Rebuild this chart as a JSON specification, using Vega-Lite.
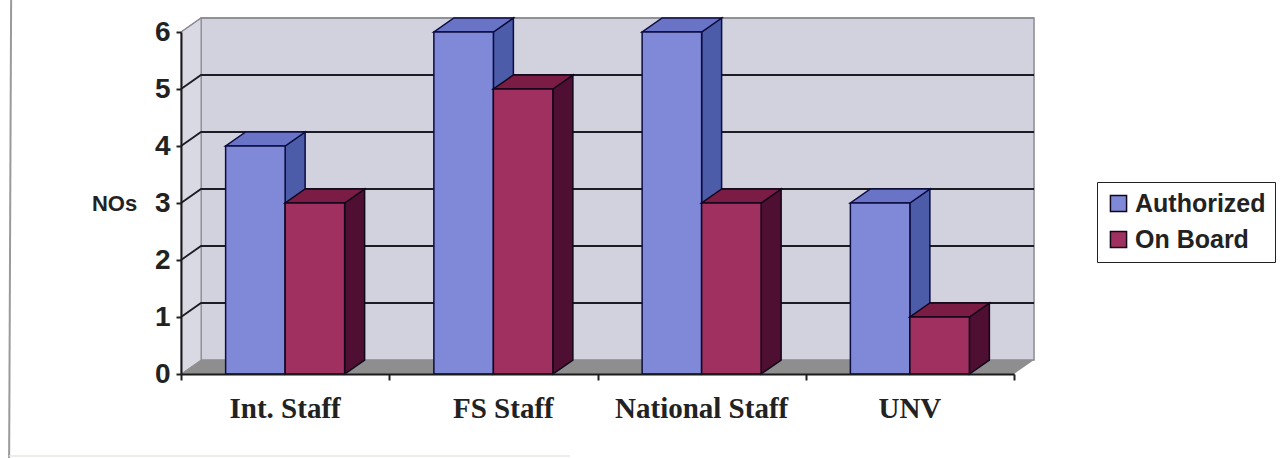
{
"$schema":"https://vega.github.io/schema/vega-lite/v6.json",
"width":833,"height":342,
"autosize":"none",
"padding":{"left":181,"top":32,"right":269,"bottom":84},
"background":"#ffffff",
"datasets":{
"bars":[
{"category":"Int. Staff","series":"Authorized","value":4},
{"category":"Int. Staff","series":"On Board","value":3},
{"category":"FS Staff","series":"Authorized","value":6},
{"category":"FS Staff","series":"On Board","value":5},
{"category":"National Staff","series":"Authorized","value":6},
{"category":"National Staff","series":"On Board","value":3},
{"category":"UNV","series":"Authorized","value":3},
{"category":"UNV","series":"On Board","value":1}],
"levels":[
{"category":"Int. Staff","level":1},
{"category":"Int. Staff","level":2},
{"category":"Int. Staff","level":3},
{"category":"Int. Staff","level":4},
{"category":"Int. Staff","level":5}],
"top":[{"category":"Int. Staff","level":6}],
"base":[{"category":"Int. Staff","level":0}]
},
"encoding":{
"x":{"field":"category","type":"nominal","sort":null,"title":null,
"scale":{"domain":["Int. Staff","FS Staff","National Staff","UNV"],"paddingInner":0,"paddingOuter":0},
"axis":{"zindex":1,"tickBand":"extent","labels":false,"tickColor":"#222222","tickSize":6,"tickWidth":2,"domainColor":"#1a1a1a","domainWidth":2}}
},
"layer":[
{"data":{"name":"base"},"mark":{"type":"point","filled":true,"opacity":1,"size":4,"fill":"#d2d2de","stroke":"#8a8a94","strokeWidth":1.5,"shape":"M-84.1 -14 L748.9 -14 L748.9 -356 L-84.1 -356 Z"},
"encoding":{"y":{"field":"level","type":"quantitative","scale":{"domain":[0,6],"nice":false},"title":"NOs",
"axis":{"zindex":1,"values":[0,1,2,3,4,5,6],"format":"d","grid":false,"labelFont":"Liberation Sans","labelFontWeight":"bold","labelFontSize":28,"labelColor":"#222222","labelPadding":6,"tickColor":"#222222","tickSize":5,"tickWidth":2,"domainColor":"#1a1a1a","domainWidth":2,"titleAngle":0,"titleFont":"Liberation Sans","titleFontWeight":"bold","titleFontSize":22,"titleColor":"#222222","titleX":-67,"titleY":171,"titleAlign":"center","titleBaseline":"middle"}}}},
{"data":{"name":"base"},"mark":{"type":"point","filled":true,"opacity":1,"size":4,"fill":"#d9d9e3","stroke":"#8a8a94","strokeWidth":1,"shape":"M-104.1 0 L-84.1 -14 L-84.1 -356 L-104.1 -342 Z"},
"encoding":{"y":{"field":"level","type":"quantitative"}}},
{"data":{"name":"base"},"mark":{"type":"point","filled":true,"opacity":1,"size":4,"fill":"#8e8e8e","strokeWidth":0,"shape":"M-104.1 0 L728.9 0 L748.9 -14 L-84.1 -14 Z"},
"encoding":{"y":{"field":"level","type":"quantitative"}}},
{"data":{"name":"base"},"mark":{"type":"point","filled":false,"opacity":1,"size":4,"stroke":"#9a9a9a","strokeWidth":2,"shape":"M-274 -374 L-276 84"},
"encoding":{"y":{"field":"level","type":"quantitative"}}},
{"data":{"name":"base"},"mark":{"type":"point","filled":false,"opacity":1,"size":4,"stroke":"#e6e6e2","strokeWidth":1.5,"shape":"M-276 82 L285 82"},
"encoding":{"y":{"field":"level","type":"quantitative"}}},
{"data":{"name":"levels"},"mark":{"type":"point","filled":false,"opacity":1,"size":4,"stroke":"#1c1c24","strokeWidth":1.8,"shape":"M-104.1 0 L-84.1 -14 L748.9 -14"},
"encoding":{"y":{"field":"level","type":"quantitative"}}},
{"data":{"name":"top"},"mark":{"type":"point","filled":false,"opacity":1,"size":4,"stroke":"#8a8a94","strokeWidth":1.5,"shape":"M-104.1 0 L-84.1 -14 L748.9 -14"},
"encoding":{"y":{"field":"level","type":"quantitative"}}},

{"data":{"name":"bars"},"transform":[{"filter":"datum.series==='Authorized'"}],"mark":{"type":"point","filled":true,"opacity":1,"size":4,"fill":"#4c5ca8","stroke":"#0c0c40","strokeWidth":1.5},
"encoding":{"xOffset":{"field":"series","scale":{"domain":["Authorized","On Board"],"paddingInner":0,"paddingOuter":0.75}},"y":{"field":"value","type":"quantitative"},
"shape":{"field":"value","type":"nominal","legend":null,"scale":{"domain":[1,3,4,5,6],"range":["M29.75 0 L49.75 -14 L49.75 43 L29.75 57 Z","M29.75 0 L49.75 -14 L49.75 157 L29.75 171 Z","M29.75 0 L49.75 -14 L49.75 214 L29.75 228 Z","M29.75 0 L49.75 -14 L49.75 271 L29.75 285 Z","M29.75 0 L49.75 -14 L49.75 328 L29.75 342 Z"]}}}},
{"data":{"name":"bars"},"transform":[{"filter":"datum.series==='Authorized'"}],"mark":{"type":"point","filled":true,"opacity":1,"size":4,"fill":"#6a74c6","stroke":"#0c0c40","strokeWidth":1.5,"shape":"M-29.75 0 L29.75 0 L49.75 -14 L-9.75 -14 Z"},
"encoding":{"xOffset":{"field":"series"},"y":{"field":"value","type":"quantitative"}}},
{"data":{"name":"bars"},"transform":[{"filter":"datum.series==='Authorized'"}],"mark":{"type":"bar","stroke":"#0c0c40","strokeWidth":1.5},
"encoding":{"xOffset":{"field":"series"},"y":{"field":"value","type":"quantitative"},
"color":{"field":"series","type":"nominal","title":null,"scale":{"domain":["Authorized","On Board"],"range":["#7f89d8","#a03060"]},
"legend":{"orient":"none","legendX":916,"legendY":150,"direction":"vertical","fillColor":"#ffffff","strokeColor":"#222222","padding":9,"symbolType":"square","symbolSize":260,"symbolStrokeColor":"#1a1a2a","symbolStrokeWidth":1.5,"labelFont":"Liberation Sans","labelFontWeight":"bold","labelFontSize":25,"labelColor":"#222222","rowPadding":10,"labelOffset":4,"cornerRadius":0,"symbolOpacity":1}}}},

{"data":{"name":"bars"},"transform":[{"filter":"datum.series==='On Board'"}],"mark":{"type":"point","filled":true,"opacity":1,"size":4,"fill":"#4f0f32","stroke":"#12061a","strokeWidth":1.5},
"encoding":{"xOffset":{"field":"series"},"y":{"field":"value","type":"quantitative"},
"shape":{"field":"value","type":"nominal","legend":null}}},
{"data":{"name":"bars"},"transform":[{"filter":"datum.series==='On Board'"}],"mark":{"type":"point","filled":true,"opacity":1,"size":4,"fill":"#7a1c44","stroke":"#12061a","strokeWidth":1.5,"shape":"M-29.75 0 L29.75 0 L49.75 -14 L-9.75 -14 Z"},
"encoding":{"xOffset":{"field":"series"},"y":{"field":"value","type":"quantitative"}}},
{"data":{"name":"bars"},"transform":[{"filter":"datum.series==='On Board'"}],"mark":{"type":"bar","stroke":"#12061a","strokeWidth":1.5},
"encoding":{"xOffset":{"field":"series"},"y":{"field":"value","type":"quantitative"},
"color":{"field":"series","type":"nominal"}}},

{"data":{"name":"bars"},"transform":[{"filter":"datum.series==='Authorized' && datum.category!=='FS Staff'"}],"mark":{"type":"text","font":"Liberation Serif","fontWeight":"bold","fontSize":29,"color":"#222222","baseline":"alphabetic","dy":44},
"encoding":{"y":{"datum":0},"text":{"field":"category"}}},
{"data":{"name":"bars"},"transform":[{"filter":"datum.series==='Authorized' && datum.category==='FS Staff'"}],"mark":{"type":"text","font":"Liberation Serif","fontWeight":"bold","fontSize":29,"color":"#222222","baseline":"alphabetic","dy":44,"dx":10},
"encoding":{"y":{"datum":0},"text":{"field":"category"}}}
]
}
